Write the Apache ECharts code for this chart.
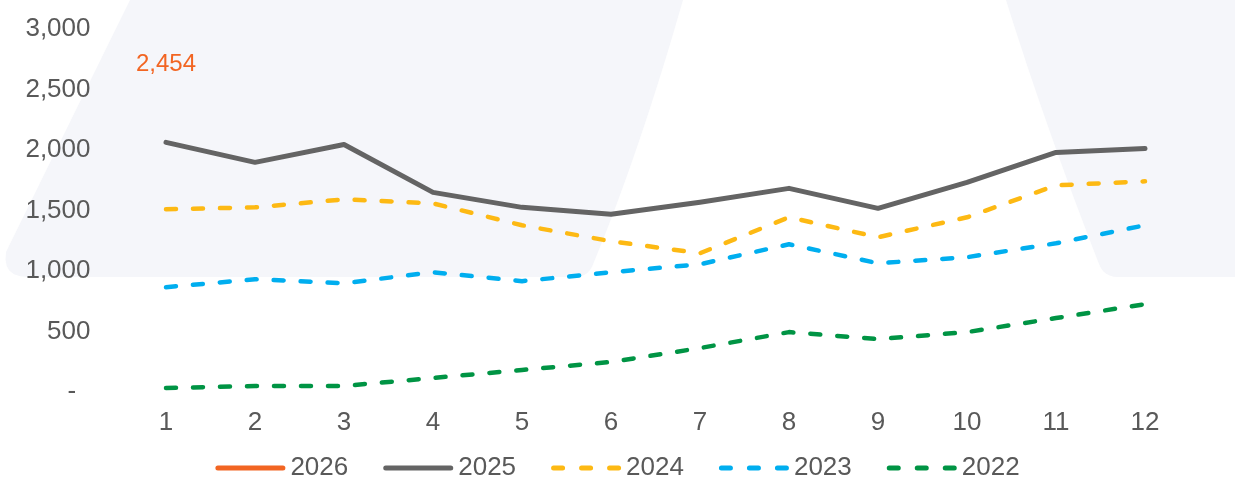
<!DOCTYPE html>
<html>
<head>
<meta charset="utf-8">
<script src="https://cdn.jsdelivr.net/npm/echarts@6/dist/echarts.min.js"></script>
<style>
html,body{margin:0;padding:0;background:#fff;}
#c{width:1235px;height:479px;}
</style>
</head>
<body>
<div id="c"></div>
<script>
const months = ['1','2','3','4','5','6','7','8','9','10','11','12'];
const s2026 = [2454, null, null, null, null, null, null, null, null, null, null, null];
const s2025 = [2063, 1898, 2046, 1650, 1526, 1469, 1568, 1683, 1518, 1733, 1980, 2013];
const s2024 = [1510, 1526, 1592, 1559, 1378, 1246, 1147, 1444, 1279, 1444, 1708, 1741];
const s2023 = [866, 932, 899, 990, 916, 990, 1056, 1221, 1064, 1114, 1229, 1378];
const s2022 = [33, 50, 50, 116, 182, 248, 363, 495, 437, 495, 611, 726];
const yTicks = [0, 500, 1000, 1500, 2000, 2500, 3000];

const FONT = '"Liberation Sans", Arial, sans-serif';
const TXT = '#595959';

// decorative watermark outline: quadratic segments flattened into polygon points
function quad(p0, c, p1, n){
  const out = [];
  for (let i = 1; i <= n; i++){
    const t = i / n, u = 1 - t;
    out.push([u*u*p0[0] + 2*u*t*c[0] + t*t*p1[0], u*u*p0[1] + 2*u*t*c[1] + t*t*p1[1]]);
  }
  return out;
}
const leftShape = [[130,0],[683,0]]
  .concat(quad([683,0],[640,150],[594,262],16))
  .concat(quad([594,262],[589,277],[576,277],6))
  .concat([[28,277]])
  .concat(quad([28,277],[2,277],[6,252],6));
const rightShape = [[1006,0],[1235,0],[1235,277],[1118,277]]
  .concat(quad([1118,277],[1104,277],[1099,264],6))
  .concat(quad([1099,264],[1045,125],[1006,0],16));

const SOLID_ICON = 'path://M2.5,0 H67.5 A2.5,2.5 0 0 1 67.5,5 H2.5 A2.5,2.5 0 0 1 2.5,0 Z';
const DASH_ICON = 'path://M2.5,0 H11.5 A2.5,2.5 0 0 1 11.5,5 H2.5 A2.5,2.5 0 0 1 2.5,0 Z M30.5,0 H39.5 A2.5,2.5 0 0 1 39.5,5 H30.5 A2.5,2.5 0 0 1 30.5,0 Z M58.5,0 H67.5 A2.5,2.5 0 0 1 67.5,5 H58.5 A2.5,2.5 0 0 1 58.5,0 Z';

const chart = echarts.init(document.getElementById('c'), null, {renderer:'canvas'});

function dashed(name, data, color){
  return {
    name, type:'line', data, symbol:'none', smooth:false, z:3,
    lineStyle:{color, width:4.5, type:[10,17], cap:'round', join:'round'},
    itemStyle:{color}
  };
}

chart.setOption({
  animation:false,
  backgroundColor:'#ffffff',
  graphic:[
    {type:'polygon', z:-10, silent:true, shape:{points:leftShape}, style:{fill:'#F5F6FA'}},
    {type:'polygon', z:-10, silent:true, shape:{points:rightShape}, style:{fill:'#F5F6FA'}}
  ],
  grid:{left:121.5, right:45.5, top:29, bottom:87, containLabel:false},
  legend:{
    top:450, left:'center',
    itemWidth:70, itemHeight:5, itemGap:35,
    textStyle:{color:TXT, fontSize:26, fontFamily:FONT},
    data:[
      {name:'2026', icon:SOLID_ICON},
      {name:'2025', icon:SOLID_ICON},
      {name:'2024', icon:DASH_ICON},
      {name:'2023', icon:DASH_ICON},
      {name:'2022', icon:DASH_ICON}
    ]
  },
  xAxis:{
    type:'category', data:months, boundaryGap:true,
    axisLine:{show:false}, axisTick:{show:false},
    axisLabel:{color:TXT, fontSize:26, fontFamily:FONT, margin:18},
    splitLine:{show:false}
  },
  yAxis:{
    type:'value', min:yTicks[0], max:yTicks[yTicks.length-1], interval:500,
    axisLine:{show:false}, axisTick:{show:false}, splitLine:{show:false},
    axisLabel:{color:TXT, fontSize:26, fontFamily:FONT, margin:31,
      formatter:function(v){ return v===0 ? '-  ' : v.toLocaleString('en-US'); }}
  },
  series:[
    {name:'2026', type:'line', data:s2026, symbol:'circle', symbolSize:0, showSymbol:true, z:4,
     lineStyle:{color:'#F26522', width:5, cap:'round'}, itemStyle:{color:'#F26522'},
     label:{show:true, position:'top', distance:19, color:'#F26522', fontSize:24, fontFamily:FONT,
       formatter:function(p){ return p.value==null ? '' : p.value.toLocaleString('en-US'); }}},
    {name:'2025', type:'line', data:s2025, symbol:'none', z:4,
     lineStyle:{color:'#646464', width:5, cap:'round', join:'round'}, itemStyle:{color:'#646464'}},
    dashed('2024', s2024, '#FDB913'),
    dashed('2023', s2023, '#00AEEF'),
    dashed('2022', s2022, '#009444')
  ]
});
</script>
</body>
</html>
